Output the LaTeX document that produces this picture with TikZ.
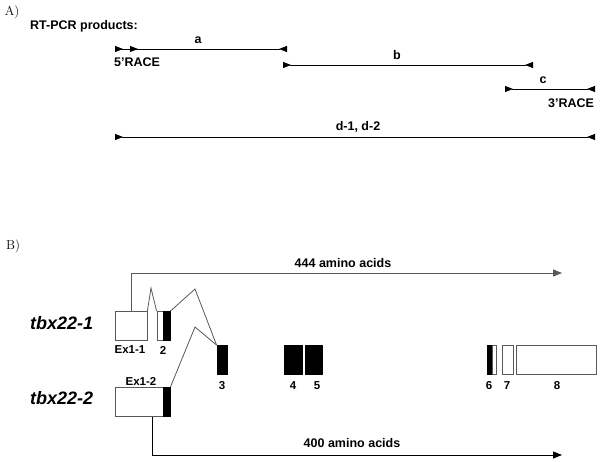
\documentclass[tikz,border=0pt]{standalone}
\usepackage{fontspec}
\setsansfont{Liberation Sans}
\usetikzlibrary{arrows.meta}

\begin{document}
\begin{tikzpicture}[x=1pt, y=-1pt,
    exon/.style={draw=black!65, fill=white, line width=0.8pt, inner sep=0pt,
        minimum height=29pt},
    coding/.style={exon, draw=black, fill=black},
    intron/.style={draw=black!65, line width=0.8pt},
    orf/.style={line width=0.8pt, -{Triangle[length=9pt,width=7pt]}},
    primer/.style={line width=0.8pt,
        {Triangle[reversed,length=8pt,width=6pt]}-{Triangle[reversed,length=8pt,width=6pt]}},
    tag/.style={font=\fontsize{13}{15}\selectfont, inner sep=0pt},
    lbl/.style={font=\sffamily\bfseries\fontsize{12.5}{14}\selectfont, inner sep=0pt},
    num/.style={font=\sffamily\bfseries\fontsize{11.5}{13}\selectfont, inner sep=0pt},
    gene/.style={font=\sffamily\bfseries\itshape\fontsize{18}{20}\selectfont, inner sep=0pt}
]
    \useasboundingbox (0,0) rectangle (600,462);

    % A) RT-PCR products
    \node[tag] (partA) at (12,12) {A)};
    \node[lbl, anchor=west] (title) at (30,26) {RT-PCR products:};

    \coordinate (a1) at (115,49);
    \coordinate (a0) at (138,49);
    \coordinate (a2) at (287,49);
    \coordinate (b1) at (283,65);
    \coordinate (b2) at (533,65);
    \coordinate (c1) at (505,89);
    \coordinate (c2) at (595,89);
    \coordinate (d1) at (115,137);
    \coordinate (d2) at (595,137);

    \draw[primer] (a1) -- (a2);
    \draw[line width=0.8pt, -{Triangle[length=8pt,width=6pt]}] (a1) -- (a0);
    \draw[primer] (b1) -- (b2);
    \draw[primer] (c1) -- (c2);
    \draw[primer] (d1) -- (d2);

    \node[lbl] (la) at (198,40) {a};
    \node[lbl] (race5) at (137,62) {5'RACE};
    \node[lbl] (lb) at (397,55) {b};
    \node[lbl] (lc) at (543,80) {c};
    \node[lbl] (race3) at (571,103) {3'RACE};
    \node[lbl] (ld) at (358,127) {d-1, d-2};

    % B) gene structure
    \node[tag] (partB) at (13,246) {B)};
    \node[gene, anchor=west] (tbx1) at (30,323) {tbx22-1};
    \node[gene, anchor=west] (tbx2) at (30,398) {tbx22-2};

    \node[exon, minimum width=32pt] (ex11) at (131,326) {};
    \node[exon, minimum width=6pt] (ex2w) at (160,326) {};
    \node[coding, minimum width=7pt] (ex2b) at (166.5,326) {};
    \node[exon, minimum width=48pt] (ex12w) at (139,402) {};
    \node[coding, minimum width=7pt] (ex12b) at (166.5,402) {};
    \node[coding, minimum width=10pt] (ex3) at (222,360) {};
    \node[coding, minimum width=18pt] (ex4) at (293.5,360) {};
    \node[coding, minimum width=17pt] (ex5) at (313.5,360) {};
    \node[coding, minimum width=5pt] (ex6b) at (489.5,360) {};
    \node[exon, minimum width=4pt] (ex6w) at (494,360) {};
    \node[exon, minimum width=11pt] (ex7) at (507.5,360) {};
    \node[exon, minimum width=80pt] (ex8) at (556,360) {};

    \node[num] (n11) at (130,350) {Ex1-1};
    \node[num] (n2) at (163,350) {2};
    \node[num] (n12) at (141,381) {Ex1-2};
    \node[num] (n3) at (222,386) {3};
    \node[num] (n4) at (293,386) {4};
    \node[num] (n5) at (317,386) {5};
    \node[num] (n6) at (489,386) {6};
    \node[num] (n7) at (507,386) {7};
    \node[num] (n8) at (557,386) {8};

    % splicing
    \coordinate (p1) at (151,288);
    \coordinate (p2) at (195,289);
    \coordinate (p3) at (195,327);
    \draw[intron] (ex11.north east) -- (p1) -- (ex2w.north west);
    \draw[intron] (ex2b.north east) -- (p2) -- (ex3.north west);
    \draw[intron] (ex12b.north east) -- (p3) -- (ex3.north west);

    % open reading frames
    \coordinate (stop1) at (562,273);
    \coordinate (stop2) at (562,455);
    \draw[orf, draw=black!65] ([xshift=17pt]ex11.north west) |- (stop1);
    \draw[orf] ([xshift=38pt]ex12w.south west) |- (stop2);
    \node[lbl] (aa444) at (343,263) {444 amino acids};
    \node[lbl] (aa400) at (352,443) {400 amino acids};
\end{tikzpicture}
\end{document}
